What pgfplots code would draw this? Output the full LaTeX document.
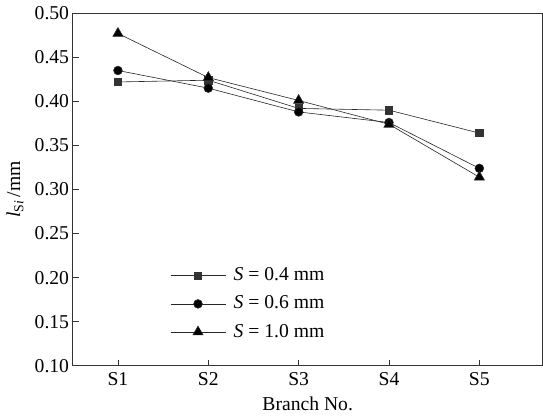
\documentclass[border=0pt]{standalone}
\usepackage{pgfplots}
\pgfplotsset{compat=1.18}
\usepackage{fontspec}
\setmainfont{Liberation Serif}
\begin{document}
\fontsize{19.5}{23}\selectfont
\begin{tikzpicture}[x=1bp,y=1bp]
\begin{axis}[
  scale only axis,
  width=465bp, height=349bp,
  xmin=0.5, xmax=5.7,
  ymin=0.10, ymax=0.50,
  xtick={1,2,3,4,5},
  xticklabels={S1,S2,S3,S4,S5},
  ytick={0.10,0.15,...,0.501},
  yticklabel style={xshift=3bp},
  y tick label style={/pgf/number format/fixed, /pgf/number format/fixed zerofill, /pgf/number format/precision=2},
  /pgf/number format/assume math mode=true,
  tick align=inside,
  xtick pos=left, ytick pos=left,
  major tick length=6bp,
  axis line style={line width=0.8pt, black!80},
  tick style={line width=0.8pt, black!80},
  ticklabel style={font=\fontsize{19.5}{23}\selectfont},
  xlabel={Branch No.},
  ylabel={\textit{l}\textsubscript{S\textit{i}}\,/mm},
  label style={font=\fontsize{19.5}{23}\selectfont},
  xlabel style={yshift=2bp},
  ylabel style={yshift=-2bp},
  legend style={draw=none, fill=none, at={(0.201,0.29)}, anchor=north west,
    font=\fontsize{19.5}{23}\selectfont, row sep=8bp},
  legend cell align=left,
  legend image code/.code={
    \draw[#1] (0bp,0bp) -- (55bp,0bp);
    \draw[#1, only marks] plot coordinates {(27bp,0bp)};
    \path (60bp,0bp);
  },
  every axis plot/.append style={line width=0.6pt, black!85},
]
\addplot[mark=square*, mark size=3.6bp, mark options={fill=black!80, draw=black!80}] coordinates {(1,0.422) (2,0.424) (3,0.392) (4,0.390) (5,0.364)};
\addlegendentry{\textit{S} = 0.4 mm}
\addplot[mark=*, mark size=4.3bp, mark options={fill=black}] coordinates {(1,0.435) (2,0.415) (3,0.388) (4,0.376) (5,0.324)};
\addlegendentry{\textit{S} = 0.6 mm}
\addplot[mark=triangle*, mark size=5.8bp, mark options={fill=black}] coordinates {(1,0.477) (2,0.427) (3,0.401) (4,0.374) (5,0.314)};
\addlegendentry{\textit{S} = 1.0 mm}
\end{axis}
\end{tikzpicture}
\end{document}
